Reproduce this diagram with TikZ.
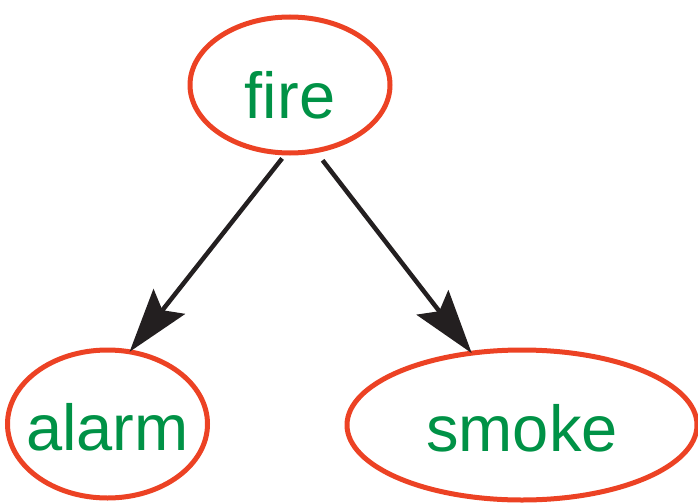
\documentclass[tikz,border=0pt]{standalone}
\usepackage{fontspec}
\setmainfont{Liberation Sans}
\usepackage{xcolor}
\usetikzlibrary{arrows, arrows.meta}
\usetikzlibrary{shapes.geometric}
\definecolor{nodered}{RGB}{236,66,36}
\definecolor{nodegreen}{RGB}{0,146,70}
\definecolor{arrowblack}{RGB}{35,31,32}

\begin{document}
\begin{tikzpicture}[x=1pt, y=-1pt,
    var/.style={ellipse, draw=nodered, line width=5pt, inner sep=0pt, outer sep=0pt,
      text=nodegreen, font=\fontsize{65}{70}\selectfont, text height=52pt, text depth=0pt},
    edge/.style={draw=arrowblack, line width=4.5pt, -{Stealth[length=64pt, width=40pt, inset=11pt]}}]
      \useasboundingbox (0,0) rectangle (698,503);

      \node[var, minimum width=200pt, minimum height=136pt, text height=66pt] (fire) at (290,85) {fire};
      \node[var, minimum width=200pt, minimum height=148pt, inner xsep=-14pt] (alarm) at (107.5,424) {alarm};
      \node[var, minimum width=350pt, minimum height=150pt] (smoke) at (522,425) {smoke};

      \draw[edge, shorten <=7pt] (fire.267) -- (alarm.73);
      \draw[edge, shorten <=12pt] (fire.291) -- (smoke.125);
    \end{tikzpicture}
\end{document}
